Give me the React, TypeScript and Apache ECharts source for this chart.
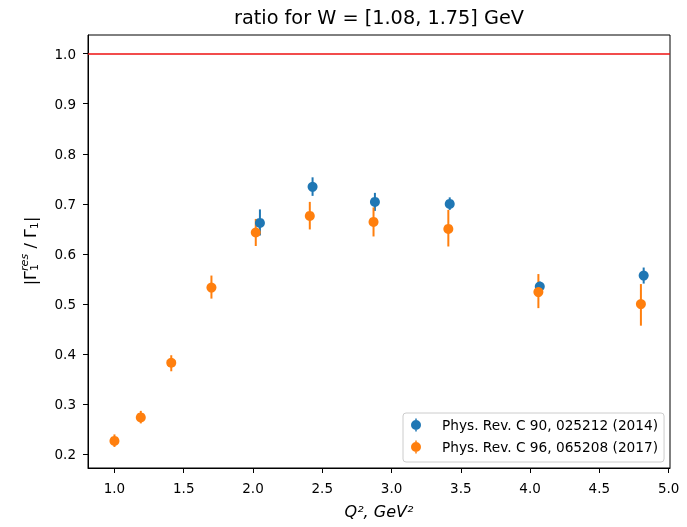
import React, { useEffect, useRef } from "react";
import * as echarts from "echarts";

const X_TICKS = [1.0, 1.5, 2.0, 2.5, 3.0, 3.5, 4.0, 4.5, 5.0];
const Y_TICKS = [0.2, 0.3, 0.4, 0.5, 0.6, 0.7, 0.8, 0.9, 1.0];

const NAME_2014 = "Phys. Rev. C 90, 025212 (2014)";
const q2_2014 = [2.05, 2.43, 2.88, 3.42, 4.07, 4.82];
const ratio_2014 = [0.662, 0.734, 0.704, 0.7, 0.535, 0.557];
const low_2014 = [0.637, 0.716, 0.686, 0.688, 0.525, 0.541];
const high_2014 = [0.689, 0.753, 0.722, 0.713, 0.545, 0.573];

const NAME_2017 = "Phys. Rev. C 96, 065208 (2017)";
const q2_2017 = [1.0, 1.19, 1.41, 1.7, 2.02, 2.41, 2.87, 3.41, 4.06, 4.8];
const ratio_2017 = [0.227, 0.274, 0.383, 0.533, 0.643, 0.676, 0.664, 0.65, 0.524, 0.5];
const low_2017 = [0.215, 0.262, 0.366, 0.511, 0.616, 0.649, 0.635, 0.615, 0.492, 0.457];
const high_2017 = [0.24, 0.287, 0.398, 0.557, 0.67, 0.704, 0.693, 0.688, 0.56, 0.54];

const REF_LINE = 1.0;

const BLUE = "#1f77b4";
const ORANGE = "#ff7f0e";
const FONT = "DejaVu Sans";

const ICON =
  "path://M4.25,0 L5.75,0 L5.75,13 L4.25,13 Z M0,6.5 A5,5 0 1,1 10,6.5 A5,5 0 1,1 0,6.5 Z";

function errSeries(xs: number[], lo: number[], hi: number[], color: string) {
  return {
    type: "custom",
    silent: true,
    data: xs.map((x, i) => [x, lo[i], hi[i]]),
    encode: { x: 0, y: [1, 2] },
    renderItem: (params: any, api: any) => {
      const p1 = api.coord([api.value(0), api.value(1)]);
      const p2 = api.coord([api.value(0), api.value(2)]);
      return {
        type: "line",
        shape: { x1: p1[0], y1: p1[1], x2: p2[0], y2: p2[1] },
        style: { stroke: color, lineWidth: 2 },
      };
    },
  };
}

export default function App() {
  const ref = useRef<HTMLDivElement>(null);
  useEffect(() => {
    if (!ref.current) return;
    const chart = echarts.init(ref.current, null, { renderer: "svg" });
    const sub = 11.2;
    const main = 16;
    chart.setOption({
      animation: false,
      grid: {
        left: 88,
        right: 17,
        top: 35,
        bottom: 59,
        show: true,
        borderColor: "#000",
        borderWidth: 1,
        containLabel: false,
        outerBoundsMode: "none",
      },
      xAxis: {
        type: "value",
        min: 0.809,
        max: 5.01,
        axisLine: { show: true, lineStyle: { color: "#000", width: 1 } },
        axisTick: { show: true, length: 5, customValues: X_TICKS, lineStyle: { color: "#000" } },
        axisLabel: {
          customValues: X_TICKS,
          formatter: (v: number) => v.toFixed(1),
          color: "#000",
          fontFamily: FONT,
          fontSize: 13.5,
          margin: 13,
        },
        splitLine: { show: false },
        name: "Q², GeV²",
        nameLocation: "middle",
        nameGap: 35,
        nameTextStyle: { fontFamily: FONT, fontStyle: "italic", fontSize: 16, color: "#000" },
      },
      yAxis: {
        type: "value",
        min: 0.173,
        max: 1.037,
        axisLine: { show: true, lineStyle: { color: "#000", width: 1 } },
        axisTick: { show: true, length: 5, customValues: Y_TICKS, lineStyle: { color: "#000" } },
        axisLabel: {
          customValues: Y_TICKS,
          formatter: (v: number) => v.toFixed(1),
          color: "#000",
          fontFamily: FONT,
          fontSize: 13.5,
          margin: 12,
        },
        splitLine: { show: false },
      },
      legend: {
        left: 403,
        top: 413,
        orient: "vertical",
        padding: [5, 6, 8, 8],
        itemWidth: 10,
        itemHeight: 13,
        itemGap: 8,
        backgroundColor: "rgba(255,255,255,0.8)",
        borderColor: "#cccccc",
        borderWidth: 1,
        borderRadius: 3,
        textStyle: { fontFamily: FONT, fontSize: 13.7, color: "#000", padding: [0, 0, 0, 16], lineHeight: 14 },
        data: [
          { name: NAME_2014, icon: ICON },
          { name: NAME_2017, icon: ICON },
        ],
      },
      graphic: [
        {
          type: "text",
          x: 379,
          y: 17.5,
          style: {
            text: "ratio for W = [1.08, 1.75] GeV",
            textAlign: "center",
            textVerticalAlign: "middle",
            fontFamily: FONT,
            fontSize: 19.3,
            fill: "#000",
          },
        },
        {
          type: "group",
          x: 30,
          y: 251,
          rotation: Math.PI / 2,
          children: [
            { type: "text", x: -34.3, y: 0, style: { text: "|", fontFamily: FONT, fontSize: main, fill: "#000", textVerticalAlign: "middle" } },
            { type: "text", x: -28.9, y: 0, style: { text: "Γ", fontFamily: FONT, fontSize: main, fill: "#000", textVerticalAlign: "middle" } },
            { type: "text", x: -20.0, y: -5.5, style: { text: "res", fontFamily: FONT, fontStyle: "italic", fontSize: sub, fill: "#000", textVerticalAlign: "middle" } },
            { type: "text", x: -20.0, y: 4.5, style: { text: "1", fontFamily: FONT, fontSize: sub, fill: "#000", textVerticalAlign: "middle" } },
            { type: "text", x: 2.4, y: 0, style: { text: "/", fontFamily: FONT, fontSize: main, fill: "#000", textVerticalAlign: "middle" } },
            { type: "text", x: 12.9, y: 0, style: { text: "Γ", fontFamily: FONT, fontSize: main, fill: "#000", textVerticalAlign: "middle" } },
            { type: "text", x: 21.8, y: 4.5, style: { text: "1", fontFamily: FONT, fontSize: sub, fill: "#000", textVerticalAlign: "middle" } },
            { type: "text", x: 28.9, y: 0, style: { text: "|", fontFamily: FONT, fontSize: main, fill: "#000", textVerticalAlign: "middle" } },
          ],
        },
      ],
      series: [
        {
          type: "line",
          data: [],
          silent: true,
          markLine: {
            silent: true,
            symbol: "none",
            label: { show: false },
            lineStyle: { color: "#ee1111", width: 1.6, type: "solid" },
            data: [{ yAxis: REF_LINE }],
          },
        },
        errSeries(q2_2014, low_2014, high_2014, BLUE),
        {
          type: "scatter",
          name: NAME_2014,
          symbol: "circle",
          symbolSize: 10,
          itemStyle: { color: BLUE, opacity: 1 },
          data: q2_2014.map((x, i) => [x, ratio_2014[i]]),
        },
        errSeries(q2_2017, low_2017, high_2017, ORANGE),
        {
          type: "scatter",
          name: NAME_2017,
          symbol: "circle",
          symbolSize: 10,
          itemStyle: { color: ORANGE, opacity: 1 },
          data: q2_2017.map((x, i) => [x, ratio_2017[i]]),
        },
      ],
    });
    return () => chart.dispose();
  }, []);
  return <div ref={ref} style={{ position: "fixed", left: 0, top: 0, width: 687, height: 527 }} />;
}
